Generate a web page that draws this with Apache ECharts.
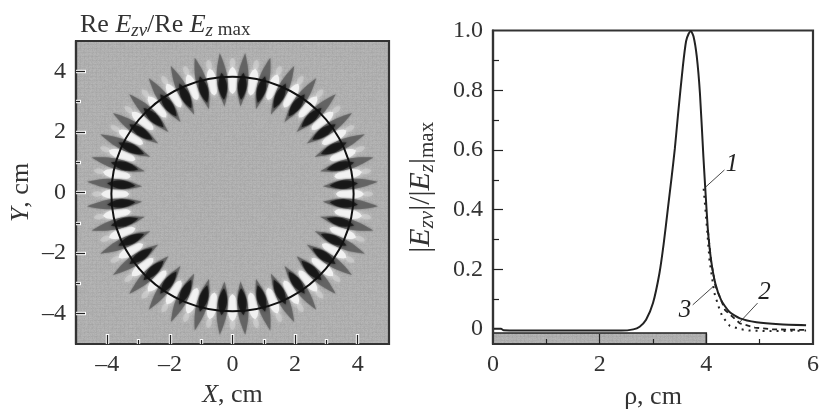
<!DOCTYPE html>
<html><head><meta charset="utf-8">
<style>html,body{margin:0;padding:0;background:#fff}#c{width:819px;height:410px}</style>
<script src="https://cdn.jsdelivr.net/npm/echarts@6/dist/echarts.min.js"></script>
</head><body><div id="c"></div>
<script>
// ---- left panel data
const circle = [[0, -0.05, 3.87]];
const petalAngles = [5,15,25,35,45,55,65,75,85,95,105,115,125,135,145,155,165,175,185,195,205,215,225,235,245,255,265,275,285,295,305,315,325,335,345,355];
const xyMajor = [-4,-2,0,2,4];
const xyMinor = [-3,-1,1,3];
// ---- right panel data
const rhoLabels = [0,2,4,6];
const rhoMajor = [2,4];
const rhoMinor = [1,3,5];
const ampLabels = [0,0.2,0.4,0.6,0.8,1];
const ampMajor = [0.2,0.4,0.6,0.8];
const ampMinor = [0.1,0.3,0.5,0.7,0.9];
const curve1 = [[0,0.001],[0.15,0.001],[0.2,-0.004],[1,-0.005],[2,-0.005],[2.4,-0.005],[2.63,-0.001],[2.75,0.008],[2.87,0.031],[3.0,0.087],[3.12,0.186],[3.2,0.285],[3.28,0.405],[3.35,0.51],[3.41,0.605],[3.47,0.72],[3.56,0.88],[3.62,0.964],[3.67,0.99],[3.71,0.998],[3.76,0.98],[3.82,0.914],[3.88,0.79],[3.945,0.577],[3.98,0.471],[4.03,0.331],[4.09,0.23],[4.17,0.152],[4.28,0.096],[4.43,0.058],[4.63,0.036],[4.94,0.023],[5.37,0.016],[5.87,0.013]];
const curve2 = [[4.03,0.331],[4.09,0.225],[4.17,0.145],[4.35,0.064],[4.63,0.019],[4.91,0.005],[5.25,-0.001],[5.87,-0.003]];
const curve3 = [[3.95,0.47],[4.0,0.365],[4.06,0.23],[4.15,0.121],[4.23,0.075],[4.3,0.042],[4.44,0.011],[4.63,0],[4.81,-0.005],[5.25,-0.007],[5.87,-0.005]];
const substrate = [[0,4,-0.05,-0.013]];
const leaders = [
  [[4.34,0.533],[3.97,0.473]],
  [[4.96,0.087],[4.61,0.02]],
  [[3.745,0.081],[4.12,0.141]]
];
const curveNames = [[4.48,0.553,'1'],[5.09,0.124,'2'],[3.6,0.064,'3']];

const SERIF='"Liberation Serif","Times New Roman",serif';
const chart = echarts.init(document.getElementById('c'),null,{renderer:'canvas'});

// deterministic woven paper-like texture for the scanned grey areas
function weave(base){
  const c=document.createElement('canvas');c.width=c.height=96;const g=c.getContext('2d');
  const d=g.createImageData(96,96);
  let s=12345;const nx=()=>{s=(s*1103515245+12345)&0x7fffffff;return (s>>8)%100/100;};
  for(let y=0;y<96;y++)for(let x=0;x<96;x++){
    const w=((x%4===0)?-4:0)+((y%4===0)?-4:1);
    const n=(nx()-.5)*10;
    const v=base+w+n;const i=(y*96+x)*4;
    d.data[i]=d.data[i+1]=d.data[i+2]=v;d.data[i+3]=255;
  }
  g.putImageData(d,0,0);return {image:c,repeat:'repeat'};
}
const paper=weave(176);

function spindle(api,a,r0,r1,w,e){
  const t=a*Math.PI/180,c=Math.cos(t),s=Math.sin(t),pts=[];
  const n=14,prof=u=>w*Math.pow(Math.sin(Math.PI*u),e);
  for(let i=0;i<=n;i++){const u=i/n,r=r0+(r1-r0)*u,h=prof(u);pts.push(api.coord([r*c-h*s,-0.05+r*s+h*c]));}
  for(let i=n-1;i>0;i--){const u=i/n,r=r0+(r1-r0)*u,h=prof(u);pts.push(api.coord([r*c+h*s,-0.05+r*s-h*c]));}
  return pts;
}
const poly=(points,fill,blur,op)=>({type:'polygon',shape:{points},style:{fill,opacity:op,shadowBlur:blur,shadowColor:fill}});
const whiteItem=(p,api)=>{
  const mid=api.value(0)+5;
  return {type:'group',silent:true,children:[
    poly(spindle(api,mid,4.15,4.5,0.09,0.6),'#d6d6d6',4,0.5),
    poly(spindle(api,mid,3.3,4.2,0.16,0.55),'#f2f2f2',5,0.95)
  ]};
};
const petalItem=(p,api)=>{
  const a=api.value(0);
  return {type:'group',silent:true,children:[
    poly(spindle(api,a,2.9,4.66,0.17,1),'#606060',2,0.82),
    poly(spindle(api,a,3.12,4.02,0.135,0.9),'#151515',3,0.82)
  ]};
};
const ringItem=(p,api)=>{
  const c=api.coord([api.value(0),api.value(1)]);
  const sz=api.size([api.value(2),api.value(2)]);
  return {type:'ellipse',shape:{cx:c[0],cy:c[1],rx:sz[0],ry:sz[1]},style:{fill:'none',stroke:'#111',lineWidth:2}};
};
const rectItem=(p,api)=>{
  const a=api.coord([api.value(0),api.value(3)]),b=api.coord([api.value(1),api.value(2)]);
  return {type:'rect',shape:{x:a[0],y:a[1],width:b[0]-a[0],height:b[1]-a[1]},style:{fill:paper,stroke:'#222',lineWidth:1.5}};
};
const labelItem=(p,api)=>{
  const c=api.coord([api.value(0),api.value(1)]);
  return {type:'text',x:c[0],y:c[1],style:{text:curveNames[p.dataIndex][2],font:'italic 25px '+SERIF,fill:'#222',align:'center',verticalAlign:'middle'}};
};
const labelFont={fontFamily:SERIF,fontSize:24,color:'#333'};
const base={fontFamily:SERIF,color:'#333',fontWeight:'normal'};
const rich={i:{...base,fontStyle:'italic',fontSize:26},
  n:{...base,fontSize:26},
  s:{...base,fontStyle:'italic',fontSize:19,padding:[11,0,0,0]},
  m:{...base,fontSize:19,padding:[11,0,0,0]}};
const richBig={i:{...base,fontStyle:'italic',fontSize:30},
  n:{...base,fontSize:30},
  s:{...base,fontStyle:'italic',fontSize:21,padding:[12,0,0,0]},
  m:{...base,fontSize:21,padding:[12,0,0,0]}};
const frame={show:true,onZero:false,lineStyle:{color:'#333',width:2.2}};
const minus=v=>String(v).replace('-','–');
// tick-only overlay axes (ticks are measured from the axis line, inside the frame)
const overlay=(gridIndex,pos,min,max,interval,vals,len,color,width)=>({
  gridIndex,position:pos,type:'value',min,max,interval,z:6,splitLine:{show:false},
  axisLine:{show:false,onZero:false},axisLabel:{show:false},
  axisTick:{show:true,inside:true,length:len,customValues:vals,lineStyle:{color,width}}
});

chart.setOption({
  animation:false,backgroundColor:'#fff',
  title:[{left:75,top:5,text:'{n|Re }{i|E}{s|zν}{n|/Re }{i|E}{s|z}{m| max}',textStyle:{rich}}],
  grid:[
    {left:76,top:41,width:313,height:303,outerBoundsMode:'none',containLabel:false,show:true,backgroundColor:paper,borderColor:'#333',borderWidth:2.2},
    {left:493,top:30.5,width:320,height:313.5,outerBoundsMode:'none',containLabel:false,show:true,backgroundColor:'#fff',borderColor:'#333',borderWidth:2.2}
  ],
  xAxis:[
    {gridIndex:0,position:'bottom',type:'value',min:-5,max:5,interval:1,axisLine:frame,splitLine:{show:false},z:5,
     axisTick:{show:true,inside:true,length:10,customValues:xyMajor,lineStyle:{color:'#fff',width:3.4}},
     axisLabel:{...labelFont,margin:9,customValues:xyMajor,formatter:minus},
     name:'{i|X}{n|, cm}',nameLocation:'middle',nameGap:38,nameTextStyle:{rich}},
    {gridIndex:1,position:'bottom',type:'value',min:0,max:6,interval:1,axisLine:frame,splitLine:{show:false},z:5,
     axisTick:{show:true,inside:true,length:10,customValues:rhoMajor,lineStyle:{color:'#222',width:1.2}},
     axisLabel:{...labelFont,margin:9,customValues:rhoLabels,formatter:v=>String(v)},
     name:'{n|ρ, cm}',nameLocation:'middle',nameGap:40,nameTextStyle:{rich}},
    overlay(1,'bottom',0,6,1,rhoMinor,5,'#222',1.2),
    overlay(0,'bottom',-5,5,1,xyMinor,5,'#fff',3.4),
    overlay(0,'bottom',-5,5,1,xyMajor,9,'#222',1.3),
    overlay(0,'bottom',-5,5,1,xyMinor,4,'#222',1.3)
  ],
  yAxis:[
    {gridIndex:0,position:'left',type:'value',min:-5,max:5,interval:1,axisLine:frame,splitLine:{show:false},z:5,
     axisTick:{show:true,inside:true,length:10,customValues:xyMajor,lineStyle:{color:'#fff',width:3.4}},
     axisLabel:{...labelFont,margin:10,customValues:xyMajor,formatter:minus},
     name:'{i|Y}{n|, cm}',nameLocation:'middle',nameGap:42,nameTextStyle:{rich}},
    {gridIndex:1,position:'left',type:'value',min:-0.05,max:1,interval:0.05,axisLine:frame,splitLine:{show:false},z:5,
     axisTick:{show:true,inside:true,length:10,customValues:ampMajor,lineStyle:{color:'#222',width:1.2}},
     axisLabel:{...labelFont,margin:10,customValues:ampLabels,formatter:v=>v===0?'0':v.toFixed(1)},
     name:'{n|\u007c}{i|E}{s|zν}{n|\u007c/\u007c}{i|E}{s|z}{n|\u007c}{m|max}',nameLocation:'middle',nameGap:55,nameTextStyle:{rich:richBig}},
    overlay(1,'left',-0.05,1,0.05,ampMinor,6,'#222',1.2),
    overlay(0,'left',-5,5,1,xyMinor,5,'#fff',3.4),
    overlay(0,'left',-5,5,1,xyMajor,9,'#222',1.3),
    overlay(0,'left',-5,5,1,xyMinor,4,'#222',1.3)
  ],
  series:[
    {type:'custom',xAxisIndex:0,yAxisIndex:0,data:petalAngles.map(a=>[a]),encode:{x:-1,y:-1},renderItem:whiteItem,silent:true,z:2},
    {type:'custom',xAxisIndex:0,yAxisIndex:0,data:petalAngles.map(a=>[a]),encode:{x:-1,y:-1},renderItem:petalItem,silent:true,z:3},
    {type:'custom',xAxisIndex:0,yAxisIndex:0,data:circle,renderItem:ringItem,silent:true,z:4},
    {type:'custom',xAxisIndex:1,yAxisIndex:1,data:substrate,renderItem:rectItem,silent:true,z:1},
    {type:'line',xAxisIndex:1,yAxisIndex:1,data:curve1,showSymbol:false,smooth:0.2,lineStyle:{color:'#222',width:2},z:4},
    {type:'line',xAxisIndex:1,yAxisIndex:1,data:curve2,showSymbol:false,lineStyle:{color:'#222',width:1.8,type:[5,4]},z:3},
    {type:'line',xAxisIndex:1,yAxisIndex:1,data:curve3,showSymbol:false,lineStyle:{color:'#222',width:2,type:[2,5]},z:3},
    ...leaders.map(l=>({type:'line',xAxisIndex:1,yAxisIndex:1,data:l,showSymbol:false,lineStyle:{color:'#333',width:0.9},z:3})),
    {type:'custom',xAxisIndex:1,yAxisIndex:1,data:curveNames.map(c=>[c[0],c[1]]),renderItem:labelItem,silent:true,z:6}
  ]
});
</script></body></html>
